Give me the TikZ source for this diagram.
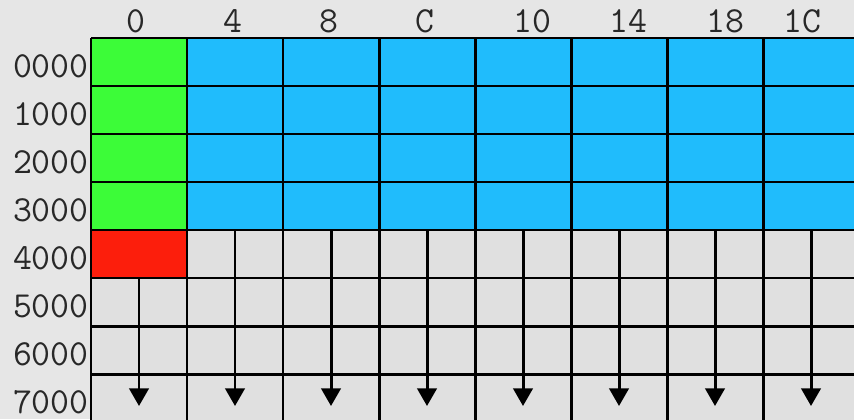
\documentclass[tikz,border=0pt]{standalone}
\usetikzlibrary{arrows.meta}
\definecolor{pagegray}{RGB}{230,230,230}
\definecolor{cellgray}{RGB}{224,224,224}
\definecolor{memgreen}{RGB}{60,252,56}
\definecolor{memblue}{RGB}{32,188,252}
\definecolor{memred}{RGB}{252,30,12}
\definecolor{inkgray}{RGB}{40,40,40}
\tikzset{
  grid line/.style={black, line width=1.7pt},
  label/.style={text=inkgray, font=\ttfamily\fontsize{20.9}{22}\selectfont, inner sep=0pt},
  flow/.style={black, line width=1.7pt, -{Triangle[width=11pt, length=10pt]}}
}
\begin{document}
\begin{tikzpicture}[x=0.02cm, y=-0.02cm]
  \useasboundingbox (0,0) rectangle (854,419);
  \clip (0,0) rectangle (854,419);
  \fill[pagegray] (0,0) rectangle (854,419);
  % memory blocks
  \fill[cellgray] (91,230) rectangle (859,422);
  \fill[memblue] (187,38) rectangle (859,230);
  \fill[memgreen] (91,38) rectangle (187,230);
  \fill[memred] (91,230) rectangle (187,278);
  % grid
  \foreach \k in {0,...,8} {
    \draw[grid line] ({91+96*\k},38) -- ({91+96*\k},422);
    \draw[grid line] (91,{38+48*\k}) -- (859,{38+48*\k});
  }
  % column offsets
  \foreach \t/\x in {0/136, 4/233, 8/329, C/425, 10/532, 14/628, 18/725, 1C/802}
    \node[label, anchor=base] (col\t) at (\x,32) {\t};
  % row addresses
  \foreach \t [count=\i from 0] in {0000,1000,2000,3000,4000,5000,6000,7000}
    \node[label, anchor=base east] (row\t) at (89,{77+48*\i}) {\t};
  % growth arrows
  \foreach \c in {0,...,7} {
    \pgfmathsetmacro{\ystart}{ifthenelse(\c==0,278,230)}
    \coordinate (top\c) at ({139+96*\c},\ystart);
    \coordinate (end\c) at ({139+96*\c},406);
    \draw[flow] (top\c) -- (end\c);
  }
\end{tikzpicture}
\end{document}
